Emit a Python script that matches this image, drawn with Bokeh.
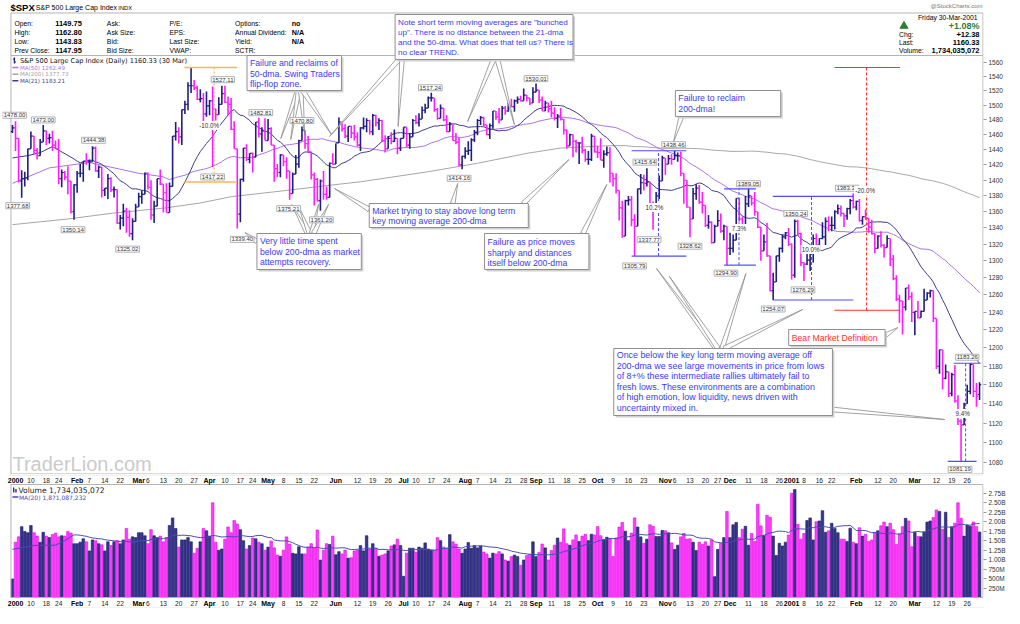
import numpy as np
import pandas as pd
from bokeh.plotting import figure
from bokeh.layouts import column
from bokeh.models import Range1d, FixedTicker, NumeralTickFormatter, Label, ColumnDataSource, CustomJSTickFormatter
from bokeh.core.properties import value
from bokeh.embed import file_html
from bokeh.resources import INLINE

# ---------------- DATA ----------------
holidays = ["2000-01-17", "2000-02-21", "2000-04-21", "2000-05-29", "2000-07-04", "2000-09-04",
            "2000-11-23", "2000-12-25", "2001-01-01", "2001-01-15", "2001-02-19"]
dates = [d for d in pd.bdate_range("1999-12-31", "2001-03-30") if d.strftime("%Y-%m-%d") not in holidays]
N = len(dates)
idx_of = {d.strftime("%Y-%m-%d"): i for i, d in enumerate(dates)}

opens = [1464,
 1469,1455,1399,1402,1403,1441,1458,1439,1432,1450,
 1465,1455,1456,1446,1441,1402,1410,1404,1399,1360,
 1394,1409,1409,1425,1424,1424,1442,1412,1417,1387,
 1390,1402,1388,1388,1346,1352,1361,1353,1333,1348,
 1366,1379,1382,1409,1391,1356,1367,1402,1395,1384,
 1359,1392,1458,1464,1457,1494,1501,1527,1527,1524,
 1508,1509,1488,1499,1506,1495,1487,1501,1516,1504,
 1501,1467,1441,1357,1401,1442,1427,1435,1430,1477,
 1461,1465,1452,1468,1446,1415,1410,1433,1424,1412,
 1383,1408,1421,1452,1466,1448,1437,1407,1401,1374,
 1399,1382,1378,1422,1421,1449,1477,1468,1458,1471,
 1462,1457,1446,1469,1471,1479,1464,1486,1476,1479,
 1452,1441,1455,1451,1455,1442,1455,1470,1446,1457,
 1479,1476,1481,1493,1496,1510,1510,1494,1482,1496,
 1480,1464,1474,1452,1450,1420,1431,1438,1439,1453,
 1463,1479,1483,1473,1460,1472,1492,1484,1480,1496,
 1492,1499,1498,1506,1508,1506,1514,1510,1503,1518,
 1521,1507,1492,1503,1495,1489,1482,1485,1481,1466,
 1445,1460,1451,1449,1449,1439,1427,1427,1458,1437,
 1436,1426,1434,1436,1409,1402,1387,1365,1330,1374,
 1375,1350,1342,1389,1397,1396,1398,1365,1364,1380,
 1399,1429,1421,1428,1427,1432,1432,1409,1400,1366,
 1351,1383,1390,1372,1368,1343,1347,1322,1342,1349,
 1336,1342,1315,1315,1325,1377,1351,1344,1370,1380,
 1371,1360,1341,1312,1323,1306,1265,1275,1306,1315,
 1329,1334,1320,1283,1348,1333,1298,1296,1301,1313,
 1327,1319,1327,1329,1348,1343,1343,1360,1364,1358,
 1355,1364,1374,1366,1373,1349,1354,1352,1341,1333,
 1315,1330,1319,1316,1327,1302,1279,1255,1253,1246,
 1268,1258,1240,1241,1234,1241,1254,1262,1265,1233,
 1180,1198,1167,1174,1151,1171,1143,1122,1118,1140,
 1153,1182,1153,1149.75]

highs = [1473,
 1478,1455,1413,1411,1441,1464,1458,1442,1454,1473,
 1465,1461,1465,1452,1454,1414,1412,1418,1399,1395,
 1412,1421,1425,1435,1427,1444.38,1444,1419,1417,1390,
 1408,1404,1392,1388,1356,1370,1365,1362,1352,1370,
 1384,1387,1410,1410,1400,1374,1402,1414,1395,1396,
 1397,1458,1477,1470,1494,1506,1532,1552.87,1535,1527,
 1522,1517,1519,1507,1526,1495,1511,1527.11,1527,1512,
 1510,1478,1441,1402,1442,1447,1435,1436,1477,1482.81,
 1470,1482,1481,1470,1446,1421,1434,1433,1430,1412,
 1410,1433,1453,1470.80,1466,1458,1437,1410,1403,1401,
 1412,1392,1423,1435,1448,1483,1477,1474,1471,1472,
 1473,1463,1470,1483,1482,1480,1488,1487,1482,1480,
 1459,1458,1463,1467,1455,1455,1470,1470,1462,1481,
 1486,1489,1498,1502,1512,1517.24,1510,1496,1501,1496,
 1486,1477,1474,1462,1456,1432,1443,1451,1455,1466,
 1481,1485,1484,1473,1475,1492,1492,1496,1499,1499,
 1503,1509,1508,1512,1513,1523,1514,1510,1525,1530.01,
 1521,1512,1506,1503,1506,1497,1488,1496,1481,1467,
 1461,1460,1453,1449,1457,1441,1438,1461,1458,1445,
 1455,1439,1444,1443,1409,1409,1387,1374,1375,1380,
 1380,1357,1389,1408,1407,1415.64,1398,1373,1385,1406,
 1432,1429,1433,1434,1438.46,1436,1437,1409,1400,1366,
 1390,1395,1394,1385,1368,1356,1348,1344,1362,1358,
 1344,1342,1334,1332,1377,1377,1354,1380,1389.05,1380,
 1385,1360,1341,1332,1346,1306,1286,1306,1316,1332,
 1335,1340,1321,1350.24,1350,1334,1298,1311,1314,1332,
 1333,1327,1347,1353,1354,1354,1362,1369,1368,1358,
 1365,1376,1383.37,1374,1376,1354,1363,1352,1350,1333,
 1331,1336,1320,1331,1327,1307,1283,1260,1253,1268,
 1272,1263,1241,1253,1242,1267,1263,1266,1265,1233,
 1198,1198,1182,1174,1173,1181,1149,1124,1141,1160,
 1183.26,1182,1162,1162.80]

lows = [1462,
 1438,1397,1377.68,1392,1400,1441,1434,1427,1432,1450,
 1446,1448,1438,1441,1395,1391,1400,1382,1358,1350.14,
 1384,1404,1398,1420,1413,1424,1411,1403,1378,1380,
 1376,1385,1378,1345,1338,1342,1334,1329,1325.02,1348,
 1366,1370,1382,1388,1350,1346,1367,1394,1359,1359,
 1359,1392,1452,1448,1446,1488,1493,1517,1521,1507,
 1504,1474,1484,1486,1417.22,1479,1487,1501,1503,1486,
 1466,1441,1339.40,1347,1398,1425,1422,1410,1430,1456,
 1437,1452,1452,1446,1398,1404,1404,1418,1402,1375.21,
 1383,1408,1416,1452,1441,1436,1401,1368,1373,1361.20,
 1375,1375,1378,1420,1421,1449,1464,1455,1450,1455,
 1452,1444,1438,1467,1463,1460,1459,1471,1466,1450,
 1436,1441,1447,1450,1434,1438,1455,1443,1441,1457,
 1474,1471,1481,1489,1496,1505,1491,1480,1482,1478,
 1463,1464,1452,1447,1418,1414.16,1428,1433,1425,1450,
 1459,1473,1471,1459,1454,1468,1480,1475,1480,1487,
 1491,1497,1491,1502,1505,1506,1505,1500,1503,1518,
 1503,1492,1492,1490,1483,1479,1469,1479,1460,1441,
 1445,1430,1436,1421,1435,1424,1420,1425,1436,1429,
 1426,1416,1432,1397,1392,1383,1349,1328,1330,1368,
 1342,1305.79,1342,1382,1387,1392,1362,1337.77,1364,1376,
 1399,1407,1421,1420,1427,1424,1405,1370,1365,1328.62,
 1351,1375,1370,1358,1341,1339,1321,1322,1342,1334,
 1325,1294.90,1307,1310,1325,1348,1340,1344,1366,1368,
 1355,1340,1300,1312,1305,1264,1254.07,1275,1299,1310,
 1326,1318,1278,1280,1330,1294,1276.29,1295,1288,1298,
 1310,1313,1326,1319,1336,1336,1338,1357,1354,1341,
 1350,1357,1364,1362,1348,1344,1350,1334,1332,1309,
 1315,1316,1304,1316,1294,1277,1253,1228,1215,1242,
 1254,1229,1214,1233,1234,1241,1254,1257,1229,1177,
 1172,1155,1166,1147,1148,1141,1118,1081.19,1118,1140,
 1150,1147,1137,1143.83]

closes = [1469,
 1455,1399,1402,1403,1441,1458,1439,1432,1450,1465,
 1455,1456,1446,1441,1402,1410,1404,1399,1360,1394,
 1409,1409,1425,1424,1424,1442,1412,1417,1387,1390,
 1402,1388,1388,1346,1352,1361,1353,1333,1348,1366,
 1379,1382,1409,1391,1356,1367,1402,1395,1384,1359,
 1392,1458,1464,1457,1494,1501,1527,1527,1524,1508,
 1509,1488,1499,1506,1495,1487,1501,1516,1504,1501,
 1467,1441,1357,1401,1442,1427,1435,1430,1477,1461,
 1465,1452,1468,1446,1415,1410,1433,1424,1412,1383,
 1408,1421,1452,1466,1448,1437,1407,1401,1374,1399,
 1382,1378,1422,1421,1449,1477,1468,1458,1471,1462,
 1457,1446,1469,1471,1479,1464,1486,1476,1479,1452,
 1441,1455,1451,1455,1442,1455,1470,1446,1457,1479,
 1476,1481,1493,1496,1510,1510,1494,1482,1496,1480,
 1464,1474,1452,1450,1420,1431,1438,1439,1453,1463,
 1479,1483,1473,1460,1472,1492,1484,1480,1496,1492,
 1499,1498,1506,1508,1506,1514,1510,1503,1518,1521,
 1507,1492,1503,1495,1489,1482,1485,1481,1466,1445,
 1460,1451,1449,1449,1439,1427,1427,1458,1437,1436,
 1426,1434,1436,1409,1402,1387,1365,1330,1374,1375,
 1350,1342,1389,1397,1396,1398,1365,1364,1380,1399,
 1429,1421,1428,1427,1432,1432,1409,1400,1366,1351,
 1383,1390,1372,1368,1343,1347,1322,1342,1349,1336,
 1342,1315,1315,1325,1377,1351,1344,1370,1380,1371,
 1360,1341,1312,1323,1306,1265,1275,1306,1315,1329,
 1334,1320,1283,1348,1333,1298,1296,1301,1313,1327,
 1319,1327,1329,1348,1343,1343,1360,1364,1358,1355,
 1364,1374,1366,1373,1349,1354,1352,1341,1333,1315,
 1330,1319,1316,1327,1302,1279,1255,1253,1246,1268,
 1258,1240,1241,1234,1241,1254,1262,1265,1233,1180,
 1198,1167,1174,1151,1171,1143,1122,1118,1140,1153,
 1182,1153,1147.95,1160.33]

# volume in billions of shares
volumes = [
 0.49,1.46,1.60,1.87,1.74,1.71,1.90,1.71,1.62,1.46,
 1.72,1.62,1.58,1.66,1.70,1.60,1.63,1.62,1.74,1.70,
 1.42,1.42,1.46,1.55,1.47,1.23,1.52,1.50,1.42,1.39,
 1.23,1.47,1.37,1.47,1.50,1.42,1.52,1.82,1.54,1.60,
 1.58,1.71,1.71,1.63,1.42,1.79,1.63,1.58,1.62,1.47,
 1.58,1.90,2.10,1.82,1.33,1.52,1.52,1.58,1.47,1.17,
 1.30,1.47,1.82,1.76,1.62,2.50,1.46,1.25,1.28,1.54,
 1.86,1.71,2.03,1.94,1.79,1.50,1.28,1.37,1.57,1.55,
 1.46,1.42,1.25,1.33,1.49,1.31,1.12,1.09,1.25,1.60,
 1.41,1.17,1.15,1.34,1.15,1.15,1.33,1.42,1.30,1.78,
 0.99,1.25,1.42,1.40,1.62,1.13,1.21,1.15,1.25,1.04,
 1.05,1.23,1.25,1.37,1.23,1.63,1.28,1.42,1.30,1.09,
 1.12,1.15,1.23,1.36,1.39,1.54,1.37,0.56,1.17,1.30,
 1.30,1.20,1.33,1.30,1.44,1.28,1.25,1.25,1.58,1.50,
 1.33,1.30,1.66,1.47,1.41,1.28,1.17,1.28,1.45,1.30,
 1.37,1.31,1.36,1.20,1.15,1.04,1.17,1.15,1.21,1.15,
 0.99,
 0.96,1.08,1.12,1.08,0.85,0.99,1.11,1.14,1.47,1.08,
 1.19,1.41,1.31,0.99,1.24,1.38,1.57,1.46,1.81,1.42,
 1.38,1.52,1.65,1.48,1.62,1.67,1.50,1.67,1.65,1.87,
 1.63,1.53,1.59,1.55,1.08,1.57,1.86,1.98,1.75,1.50,
 1.70,2.10,1.86,1.60,1.43,1.54,1.92,1.88,1.61,1.61,
 1.77,1.76,1.71,1.44,1.27,1.38,1.60,1.69,1.54,1.55,
 1.46,1.24,1.46,1.40,1.47,1.36,1.52,0.55,1.27,1.43,
 1.58,2.27,1.58,1.92,1.98,1.58,1.80,1.88,1.38,1.69,
 1.48,2.46,1.89,1.64,2.17,2.12,1.62,1.11,1.43,1.36,
 1.46,1.65,2.75,2.85,1.93,1.54,1.69,2.03,2.10,1.52,
 2.00,2.02,2.29,1.72,1.76,1.96,1.82,1.71,1.54,1.54,
 1.48,1.83,1.46,1.42,1.84,1.62,1.67,1.48,1.52,1.71,
 1.76,1.89,1.99,1.87,1.96,1.79,1.40,1.68,1.87,2.09,
 2.02,1.34,1.72,1.61,1.60,1.72,1.99,2.02,2.11,2.31,
 2.27,1.80,2.25,1.58,1.87,1.96,2.50,2.09,1.62,1.91,
 1.88,1.99,1.87,1.73]

for _nm, _a in (("opens", opens), ("highs", highs), ("lows", lows), ("closes", closes), ("volumes", volumes)):
    assert len(_a) == N, f"{_nm} has {len(_a)} values, expected {N}"

# moving-average warm-up values (before a full window exists)
ma21_early_idx = [0, 5, 9, 13]
ma21_early_val = [1429, 1432, 1436, 1444]
ma50_early_idx = [0, 12, 25, 41]
ma50_early_val = [1396, 1416, 1423, 1409]
ma200_early_idx = [0, 18, 32, 50, 61, 71, 87, 104, 113, 135, 151, 167, 178, 192]
ma200_early_val = [1344, 1351, 1358, 1365, 1371, 1379, 1386, 1394, 1398, 1411, 1422, 1435, 1442, 1445]
vma20_early_idx = [0, 7, 14, 17]
vma20_early_val = [1.27, 1.37, 1.38, 1.50]

price_ticks = list(range(1080, 1561, 20))
vol_ticks = [0.25, 0.5, 0.75, 1.0, 1.25, 1.5, 1.75, 2.0, 2.25, 2.5, 2.75]

tick_dates = ["2000-01-03","2000-01-10","2000-01-18","2000-01-24","2000-02-01","2000-02-07","2000-02-14","2000-02-22",
 "2000-03-01","2000-03-06","2000-03-13","2000-03-20","2000-03-27","2000-04-03","2000-04-10","2000-04-17","2000-04-24",
 "2000-05-01","2000-05-08","2000-05-15","2000-05-22","2000-06-01","2000-06-12","2000-06-19","2000-06-26",
 "2000-07-03","2000-07-10","2000-07-17","2000-07-24","2000-08-01","2000-08-07","2000-08-14","2000-08-21","2000-08-28",
 "2000-09-01","2000-09-11","2000-09-18","2000-09-25","2000-10-02","2000-10-09","2000-10-16","2000-10-23",
 "2000-11-01","2000-11-06","2000-11-13","2000-11-20","2000-11-27","2000-12-01","2000-12-11","2000-12-18","2000-12-26",
 "2001-01-02","2001-01-08","2001-01-16","2001-01-22","2001-02-01","2001-02-12","2001-02-20",
 "2001-03-01","2001-03-12","2001-03-19","2001-03-26"]
tick_texts = ["2000","10","18","24","Feb","7","14","22","Mar","6","13","20","27","Apr","10","17","24",
 "May","8","15","22","Jun","12","19","26","Jul","10","17","24","Aug","7","14","21","28",
 "Sep","11","18","25","Oct","9","16","23","Nov","6","13","20","27","Dec","11","18","26",
 "2001","8","16","22","Feb","12","20","Mar","12","19","26"]

pivot_dates = ["2000-01-03","2000-01-14","2000-01-05","2000-02-08","2000-01-31","2000-02-28","2000-04-07","2000-04-04",
 "2000-04-14","2000-04-26","2000-05-16","2000-05-10","2000-05-24","2000-07-17","2000-07-31","2000-09-01","2000-10-18",
 "2000-10-24","2000-10-26","2000-11-06","2000-11-13","2000-11-30","2000-12-11","2000-12-21","2001-01-03","2001-01-08",
 "2001-01-31","2001-03-27","2001-03-22"]
pivot_kind = "H H L H L L H L L H H L L H L H L H L H L L H L H L H H L".split()

quote_labels = [["Open:", "High:", "Low:", "Prev Close:"], ["Ask:", "Ask Size:", "Bid:", "Bid Size:"],
                ["P/E:", "EPS:", "Last Size:", "VWAP:"], ["Options:", "Annual Dividend:", "Yield:", "SCTR:"]]
quote_values = ["1149.75", "1162.80", "1143.83", "1147.95"]
quote_values2 = ["no", "N/A", "N/A", ""]

# ---------------- LAYOUT HELPERS (reference pixels -> data) ----------------
X0, DX = 12.0, 973.0 / 314.0          # first bar at x=12, last bar at x=985 of the reference
YR, PR, KL = 66.0, 1560.0, 1088.0     # log price scale of the reference (1560 at y=66)
def ix(px): return (px - X0) / DX
def pr(py): return float(PR * np.exp(-(py - YR) / KL))
def ypx(price): return float(YR + KL * np.log(PR / price))
V0, VS = 597.0, 37.9                  # volume panel: 0 at y=597 of the second figure's space
def vv(py): return (V0 - py) / VS

SANS = "Liberation Sans"
DJ = "DejaVu Sans"
BLUE_TXT = "#3b3bf5"
RED = "#ff3030"
UPC, DNC = "#1f1f7e", "#ff1cff"
VUP, VUPL, VDN, VDNL = "#34348f", "#1d1d66", "#ff3dff", "#e010e0"
MA50C, MA200C, MA21C, VMAC = "#ad72e6", "#a6a6a6", "#3d3d8f", "#4a4ab0"
GRID = "#b4b4b4"

def put_text(fig, xs, ys, texts, size, color, conv, font=SANS, bold=False, align="left"):
    fig.text(x=[ix(a) for a in xs], y=[conv(b) for b in ys], text=texts, text_font=value(font),
             text_font_size=f"{size}px", text_color=color, text_align=align, text_baseline="middle",
             text_font_style="bold" if bold else "normal")

# ---------------- PRICE FIGURE ----------------
p = figure(frame_width=981, frame_height=474, x_range=Range1d(ix(2), ix(989)),
           y_range=Range1d(pr(478), pr(4)), y_axis_type="log", y_axis_location="right",
           x_axis_type=None, title=None, toolbar_location=None, output_backend="svg",
           min_border=0, min_border_left=2, outline_line_color=None,
           background_fill_color="white", border_fill_color="white")
p.grid.grid_line_color = None
ay = p.yaxis[0]
ay.ticker = FixedTicker(ticks=price_ticks, minor_ticks=[])
ay.formatter = NumeralTickFormatter(format="0")
ay.major_label_text_font = SANS
ay.major_label_text_font_size = "6.5px"
ay.major_label_text_color = "#333333"
ay.axis_line_color = None
ay.major_tick_out = 3
ay.major_tick_in = 0
ay.major_tick_line_color = "#999999"
ay.minor_tick_line_color = None
ay.major_label_standoff = 2

# panel / header borders
p.quad(left=[ix(10.5)], right=[ix(988.5)], top=[pr(16.5)], bottom=[pr(59)], fill_color=None, line_color=GRID)
p.quad(left=[ix(10.5)], right=[ix(988.5)], top=[pr(59)], bottom=[pr(477.5)], fill_color=None, line_color=GRID)

# watermark
put_text(p, [12], [467], ["TraderLion.com"], 20, "#cbcbcb", pr)

# moving averages
def sma(a, n):
    a = np.asarray(a, float)
    cs = np.concatenate([[0.0], np.cumsum(a)])
    return list((cs[n:] - cs[:-n]) / n)

p.line(ma200_early_idx + list(range(199, N)), ma200_early_val + sma(closes, 200), color=MA200C, line_width=1)
p.line(ma50_early_idx + list(range(49, N)), ma50_early_val + sma(closes, 50), color=MA50C, line_width=1)
p.line(ma21_early_idx + list(range(20, N)), ma21_early_val + sma(closes, 21), color=MA21C, line_width=1)

# OHLC bars
xs = np.arange(N)
up = [closes[i] >= (closes[i - 1] if i else opens[0]) for i in range(N)]
bar_col = [UPC if u else DNC for u in up]
src = ColumnDataSource(dict(x=xs, xl=xs - 0.55, xr=xs + 0.55, o=opens, h=highs, l=lows, c=closes, col=bar_col))
p.segment(x0="x", y0="l", x1="x", y1="h", line_color="col", line_width=1.6, source=src)
p.segment(x0="xl", y0="o", x1="x", y1="o", line_color="col", line_width=1.2, source=src)
p.segment(x0="x", y0="c", x1="xr", y1="c", line_color="col", line_width=1.2, source=src)

# measurement lines
def hl(px0, px1, price, color, dash="solid", w=1.2):
    p.segment(x0=[ix(px0)], y0=[price], x1=[ix(px1)], y1=[price], line_color=color, line_width=w, line_dash=dash)
def vl(xidx, p0, p1, color, dash="3 2", w=1.0):
    p.segment(x0=[xidx], y0=[p0], x1=[xidx], y1=[p1], line_color=color, line_width=w, line_dash=dash)

peak = highs[idx_of["2000-03-24"]]
ORG = "#ffb45a"
hl(185, 238, peak, ORG, w=1.5); hl(185, 238, peak * 0.9, ORG, w=1.5)
vl(idx_of["2000-04-04"] + 0.5, peak, peak * 0.9, ORG, dash="2 2", w=1.2)
hl(839, 905, peak, RED, w=1.2); hl(839, 905, peak * 0.8, RED, w=1.2)
vl(idx_of["2001-02-06"] + 0.3, peak, peak * 0.8, RED, dash="3 2")

BL = "#4d4dff"
m1lo, m1hi = lows[idx_of["2000-10-18"]], highs[idx_of["2000-11-06"]]
hl(635, 690, m1lo, BL); hl(635, 690, m1hi, BL); vl(ix(662), m1lo, m1hi, BL)
m2lo, m2hi = lows[idx_of["2000-11-30"]], highs[idx_of["2000-12-11"]]
hl(728, 760, m2lo, BL); hl(728, 760, m2hi, BL); vl(ix(743), m2lo, m2hi, BL)
m3lo = lows[idx_of["2000-12-21"]]; m3hi = m3lo * 1.10
hl(777, 858, m3lo, BL); hl(777, 858, m3hi, BL); vl(ix(816), m3lo, m3hi, BL)
m4lo, m4hi = lows[idx_of["2001-03-22"]], highs[idx_of["2001-03-27"]]
hl(953, 982, m4lo, BL); hl(959, 986, m4hi, BL); vl(ix(971), m4lo, m4hi, BL)

# callouts
callouts = [
    dict(box=(248, 59, 343, 94), lines=["Failure and reclaims of", "50-dma. Swing Traders", "flip-flop zone."],
         ys=[66.5, 77, 87.5], size=8.7, color=BLUE_TXT,
         ptr=[((299, 94), (282, 142)), ((300, 94), (292, 143)), ((302, 94), (306, 138)), ((304, 94), (333, 138))]),
    dict(box=(397, 18, 576, 63), lines=['Note short term moving averages are "bunched',
                                         'up". There is no distance between the 21-dma',
                                         'and the 50-dma. What does that tell us? There is',
                                         'no clear TREND.'],
         ys=[25.5, 35.5, 45.5, 55.5], size=8.1, color=BLUE_TXT,
         ptr=[((401, 63), (331, 140)), ((404, 63), (400, 130)), ((496, 63), (470, 125)), ((500, 63), (517, 128))]),
    dict(box=(679, 94, 785, 120), lines=["Failure to reclaim", "200-dma!"], ys=[101.5, 112.5], size=8.7,
         color=BLUE_TXT, ptr=[((685, 120), (677, 146))]),
    dict(box=(258, 237, 363, 273), lines=["Very little time spent", "below 200-dma as market", "attempts recovery."],
         ys=[244.5, 255, 265.5], size=8.7, color=BLUE_TXT,
         ptr=[((309, 237), (293, 208)), ((311, 237), (300, 210)), ((313, 237), (320, 208)),
              ((315, 237), (330, 208)), ((258, 245), (246, 236))]),
    dict(box=(371, 207, 531, 231), lines=["Market trying to stay above long term", "key moving average 200-dma"],
         ys=[214, 224.5], size=8.7, color=BLUE_TXT,
         ptr=[((371, 213), (336, 192)), ((455, 207), (460, 187)), ((526, 207), (572, 163))]),
    dict(box=(487, 237, 592, 273), lines=["Failure as price moves", "sharply and distances", "itself below 200-dma"],
         ys=[245.5, 256, 266.5], size=8.7, color=BLUE_TXT, ptr=[((586, 237), (610, 188))]),
    dict(box=(617, 352, 837, 419), lines=["Once below the key long term moving average off",
                                          "200-dma we see large movements in price from lows",
                                          "of 8+% these intermediate rallies ultimately fail to",
                                          "fresh lows. These environments are a combination",
                                          "of high emotion, low liquidity, news driven with",
                                          "uncertainty mixed in."],
         ys=[358.5, 369, 379.5, 390, 400.5, 411], size=8.9, color=BLUE_TXT,
         ptr=[((720, 352), (660, 272)), ((722, 352), (673, 280)), ((726, 352), (750, 277)),
              ((728, 352), (807, 313)), ((837, 413), (950, 423))]),
    dict(box=(793, 333, 890, 349), lines=["Bear Market Definition"], ys=[341], size=8.7, color=RED,
         ptr=[((890, 339), (903, 331))]),
]

pxs, pys = [], []
for cdef in callouts:
    for (bx, by), (tx, ty) in cdef["ptr"]:
        dxp, dyp = tx - bx, ty - by
        L = (dxp ** 2 + dyp ** 2) ** 0.5
        nx, ny = -dyp / L * 2.4, dxp / L * 2.4
        pxs.append([ix(bx + nx), ix(tx), ix(bx - nx)])
        pys.append([pr(by + ny), pr(ty), pr(by - ny)])
p.patches(pxs, pys, fill_color="white", line_color="#8a8a8a", line_width=0.8)

for cdef in callouts:
    x0, y0, x1, y1 = cdef["box"]
    p.quad(left=[ix(x0 + 2)], right=[ix(x1 + 2)], top=[pr(y0 + 2)], bottom=[pr(y1 + 2)],
           fill_color="#d0d0d0", line_color=None)
    p.quad(left=[ix(x0)], right=[ix(x1)], top=[pr(y0)], bottom=[pr(y1)],
           fill_color="white", line_color="#8f8f8f", line_width=1)
    put_text(p, [x0 + 3] * len(cdef["lines"]), cdef["ys"], cdef["lines"], cdef["size"], cdef["color"], pr)

# header (compressed a little so that the whole chart fits the window)
put_text(p, [10], [10.5], ["$SPX"], 9.5, "#000000", pr, bold=True)
put_text(p, [35.5], [11], ["S&P 500 Large Cap Index"], 7, "#000000", pr)
put_text(p, [118.5], [11], ["INDX"], 5.8, "#000000", pr)
put_text(p, [988], [9.5], ["@StockCharts.com"], 6, "#777777", pr, align="right")
rows = [26.5, 35.5, 44.5, 53.5]
for cx, labs in zip([14, 107, 170, 236], quote_labels):
    put_text(p, [cx] * 4, rows, labs, 6.8, "#000000", pr)
put_text(p, [55] * 4, rows, quote_values, 7.5, "#000000", pr, bold=True)
put_text(p, [293] * 4, rows, quote_values2, 7.2, "#000000", pr, bold=True)
put_text(p, [985], [21], ["Friday  30-Mar-2001"], 6.8, "#000000", pr, align="right")
p.scatter(x=[ix(909)], y=[pr(29.5)], marker="triangle", size=8, fill_color="#2e7d32", line_color="#2e7d32")
put_text(p, [985], [29.5], ["+1.08%"], 9, "#2e7d32", pr, bold=True, align="right")
put_text(p, [904, 904, 904], [38, 46, 54], ["Chg:", "Last:", "Volume:"], 6.8, "#000000", pr)
put_text(p, [985, 985, 985], [38, 46, 54], ["+12.38", "1160.33", "1,734,035,072"], 7.5, "#000000", pr,
         bold=True, align="right")

# price legend
p.segment(x0=[ix(14)], y0=[pr(61)], x1=[ix(14)], y1=[pr(67)], line_color=UPC, line_width=1.3)
p.segment(x0=[ix(12.5)], y0=[pr(62.5)], x1=[ix(14)], y1=[pr(62.5)], line_color=UPC, line_width=1)
p.segment(x0=[ix(14)], y0=[pr(65.5)], x1=[ix(15.5)], y1=[pr(65.5)], line_color=UPC, line_width=1)
put_text(p, [19.5], [64.3], ["S&P 500 Large Cap Index (Daily) 1160.33 (30 Mar)"], 6.6, "#111111", pr, font=DJ)
for yy, col, s in [(71, MA50C, "MA(50) 1262.49"), (77.7, MA200C, "MA(200) 1377.73"), (84.3, MA21C, "MA(21) 1183.21")]:
    p.segment(x0=[ix(12)], y0=[pr(yy)], x1=[ix(18)], y1=[pr(yy)], line_color=col, line_width=1.5)
    put_text(p, [19.5], [yy], [s], 5.6, col, pr, font=DJ)

# pivot value labels
pivot_dx = [-1, 0, -4, 1, -1, -5, 1, 0, 5, 2, 0, -1, 1, -1, -3, 0, 0, -2, -4, -1, 0, -1, 0, 0, 1, -1, -6, -3, -1]
pivot_dy = [-6, -5, 8, -6, 10, 9, -6, 10, 11, -5, -6, 9, 9, -5, 9, -5, 10, -6, 10, -6, 9, 8, -5, 9, -6, 9, -5, -6, 8]
for d, kind, ddx, ddy in zip(pivot_dates, pivot_kind, pivot_dx, pivot_dy):
    i = idx_of[d]
    v = highs[i] if kind == "H" else lows[i]
    p.add_layout(Label(x=i + ddx / DX, y=pr(ypx(v) + ddy), text=f"{v:.2f}", text_font=SANS,
                       text_font_size="6px", text_color="#333333", text_align="center", text_baseline="middle",
                       background_fill_color="white", border_line_color="#b0b0b0", border_line_width=1,
                       padding=1))

pct_specs = [((210, 129), (peak * 0.9 / peak - 1) * 100), ((658, 211), (m1hi / m1lo - 1) * 100),
             ((743, 232), (m2hi / m2lo - 1) * 100), ((815, 253), (m3hi / m3lo - 1) * 100),
             ((870, 194), (peak * 0.8 / peak - 1) * 100), ((968, 417), (m4hi / m4lo - 1) * 100)]
for (lx, lyy), pct in pct_specs:
    p.add_layout(Label(x=ix(lx), y=pr(lyy), text=f"{pct:.1f}%", text_font=SANS, text_font_size="6.3px",
                       text_color="#333333", text_align="center", text_baseline="middle",
                       background_fill_color="white", padding=1))

# ---------------- VOLUME FIGURE ----------------
v = figure(frame_width=981, frame_height=134, x_range=p.x_range, y_range=Range1d(vv(608), vv(474)),
           y_axis_location="right", x_axis_type=None, title=None, toolbar_location=None,
           output_backend="svg", min_border=0, min_border_left=2, outline_line_color=None,
           background_fill_color="white", border_fill_color="white")
v.grid.grid_line_color = None
av = v.yaxis[0]
av.ticker = FixedTicker(ticks=vol_ticks, minor_ticks=[])
av.formatter = CustomJSTickFormatter(code="return tick < 1 ? Math.round(tick*1000) + 'M' : tick.toFixed(2) + 'B';")
av.major_label_text_font = SANS
av.major_label_text_font_size = "6.5px"
av.major_label_text_color = "#333333"
av.axis_line_color = None
av.major_tick_out = 3
av.major_tick_in = 0
av.major_tick_line_color = "#999999"
av.minor_tick_line_color = None
av.major_label_standoff = 2

v.vbar(x=xs, top=volumes, bottom=0, width=0.84,
       fill_color=[VUP if u else VDN for u in up], line_color=[VUPL if u else VDNL for u in up], line_width=0.6)
v.line(vma20_early_idx + list(range(19, N)), vma20_early_val + sma(volumes, 20), color=VMAC, line_width=1)

v.quad(left=[ix(10.5)], right=[ix(988.5)], top=[vv(484)], bottom=[vv(597)], fill_color=None, line_color=GRID)
v.segment(x0=[ix(10)], y0=[vv(474.5)], x1=[ix(989)], y1=[vv(474.5)], line_color="#c8c8c8", line_dash="1 1")
v.segment(x0=[ix(10)], y0=[vv(607.5)], x1=[ix(989)], y1=[vv(607.5)], line_color="#c8c8c8", line_dash="1 1")

# volume legend
v.quad(left=[ix(12.5)], right=[ix(14)], top=[vv(487)], bottom=[vv(492)], fill_color=VUP, line_color=None)
v.quad(left=[ix(14.8)], right=[ix(16.3)], top=[vv(488.5)], bottom=[vv(492)], fill_color=VUP, line_color=None)
put_text(v, [18], [489.5], ["Volume 1,734,035,072"], 7.6, "#222222", vv, font=DJ)
v.segment(x0=[ix(12)], y0=[vv(496.5)], x1=[ix(18)], y1=[vv(496.5)], line_color=VMAC, line_width=1.5)
put_text(v, [18.5], [496.5], ["MA(20) 1,871,087,232"], 6.0, VMAC, vv, font=DJ)

# date labels (between panels and at the bottom)
tx_idx = [idx_of[d] for d in tick_dates]
is_bold = [not t.isdigit() or len(t) == 4 for t in tick_texts]
for yy in (479.5, 602.5):
    bx = [X0 + DX * i for i, b in zip(tx_idx, is_bold) if b]
    bt = [t for t, b in zip(tick_texts, is_bold) if b]
    nx_ = [X0 + DX * i for i, b in zip(tx_idx, is_bold) if not b]
    nt = [t for t, b in zip(tick_texts, is_bold) if not b]
    put_text(v, bx, [yy] * len(bx), bt, 7, "#000000", vv, bold=True, align="center")
    put_text(v, nx_, [yy] * len(nx_), nt, 6.6, "#222222", vv, align="center")

layout = column(p, v)
open("out.html", "w").write(file_html(layout, INLINE))
